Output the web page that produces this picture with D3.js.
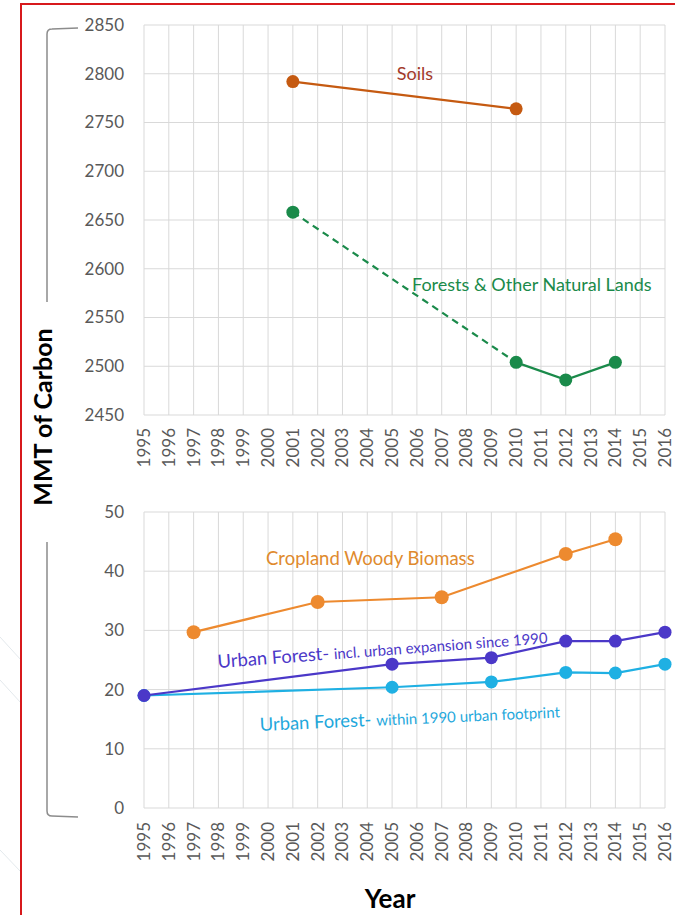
<!DOCTYPE html>
<html>
  <head>
    <meta charset="utf-8">
    <title>MMT of Carbon</title>
    <script src="https://d3js.org/d3.v7.min.js"></script>
    <style>
      body { margin: 0; background: #fff; }
      svg text { font-family: Lato, "Open Sans", sans-serif; }
      .grid line { stroke: #d9d9d9; stroke-width: 1; }
      .tick-label { fill: #595959; font-size: 17px; }
    </style>
  </head>
  <body>
    <svg width="675" height="915"></svg>

    <script>
      // years on the category axis
      const years = d3.range(1995, 2017);

      // upper panel
      const topTicks = [2450, 2500, 2550, 2600, 2650, 2700, 2750, 2800, 2850];
      const soils = [
        { year: 2001, value: 2792 },
        { year: 2010, value: 2764 }
      ];
      const forestsDashed = [
        { year: 2001, value: 2658 },
        { year: 2010, value: 2504 }
      ];
      const forests = [
        { year: 2010, value: 2504 },
        { year: 2012, value: 2486 },
        { year: 2014, value: 2504 }
      ];

      // lower panel
      const bottomTicks = [0, 10, 20, 30, 40, 50];
      const cropland = [
        { year: 1997, value: 29.7 },
        { year: 2002, value: 34.8 },
        { year: 2007, value: 35.6 },
        { year: 2012, value: 42.9 },
        { year: 2014, value: 45.4 }
      ];
      const urbanIncl = [
        { year: 1995, value: 19.0 },
        { year: 2005, value: 24.3 },
        { year: 2009, value: 25.4 },
        { year: 2012, value: 28.2 },
        { year: 2014, value: 28.2 },
        { year: 2016, value: 29.7 }
      ];
      const urbanWithin = [
        { year: 1995, value: 19.0 },
        { year: 2005, value: 20.4 },
        { year: 2009, value: 21.3 },
        { year: 2012, value: 22.9 },
        { year: 2014, value: 22.8 },
        { year: 2016, value: 24.3 }
      ];

      const svg = d3.select("svg");

      // faint background strokes at the left edge
      svg.append("path")
        .attr("d", "M0,637 L21,660 M0,680 L21,703 M0,850 L21,872")
        .attr("stroke", "#e3e9ec").attr("stroke-width", 1);

      // red frame (right edge is off the picture)
      svg.append("rect")
        .attr("x", 21).attr("y", 4)
        .attr("width", 700).attr("height", 930)
        .attr("fill", "none")
        .attr("stroke", "#d7191c")
        .attr("stroke-width", 2);

      const x = d3.scalePoint().domain(years).range([144, 665]);
      const yTop = d3.scaleLinear().domain([2450, 2850]).range([415, 25]);
      const yBot = d3.scaleLinear().domain([0, 50]).range([808, 512]);

      function panel(y, ticks, labelY) {
        const g = svg.append("g").attr("class", "grid");
        g.selectAll(".h").data(ticks).enter().append("line")
          .attr("x1", x.range()[0]).attr("x2", x.range()[1])
          .attr("y1", d => y(d)).attr("y2", d => y(d));
        g.selectAll(".v").data(years).enter().append("line")
          .attr("x1", d => x(d)).attr("x2", d => x(d))
          .attr("y1", y.range()[1]).attr("y2", y.range()[0]);

        svg.append("g").selectAll("text").data(ticks).enter().append("text")
          .attr("class", "tick-label")
          .attr("x", 124)
          .attr("y", d => y(d))
          .attr("dy", "0.35em")
          .attr("text-anchor", "end")
          .text(d => d);

        svg.append("g").selectAll("text").data(years).enter().append("text")
          .attr("class", "tick-label")
          .attr("transform", d => "translate(" + x(d) + "," + labelY + ") rotate(-90)")
          .attr("dy", "0.35em")
          .attr("text-anchor", "end")
          .text(d => d);
      }

      panel(yTop, topTicks, 428);
      panel(yBot, bottomTicks, 822);

      function series(data, y, color, r, dashed) {
        const line = d3.line().x(d => x(d.year)).y(d => y(d.value));
        svg.append("path")
          .datum(data)
          .attr("d", line)
          .attr("fill", "none")
          .attr("stroke", color)
          .attr("stroke-width", 2.2)
          .attr("stroke-dasharray", dashed ? "7,5" : null);
        if (r) {
          svg.append("g").selectAll("circle").data(data).enter().append("circle")
            .attr("cx", d => x(d.year))
            .attr("cy", d => y(d.value))
            .attr("r", r)
            .attr("fill", color);
        }
      }

      series(soils, yTop, "#c55a11", 6.5);
      series(forestsDashed, yTop, "#1a8a4a", 0, true);
      series(forests, yTop, "#1a8a4a", 6.5);
      svg.append("circle")
        .attr("cx", x(forestsDashed[0].year))
        .attr("cy", yTop(forestsDashed[0].value))
        .attr("r", 6.5).attr("fill", "#1a8a4a");

      series(cropland, yBot, "#ed8a2f", 7);
      series(urbanWithin, yBot, "#1fb0e3", 6.5);
      series(urbanIncl, yBot, "#4b38c8", 6.5);

      // series labels
      svg.append("text").attr("x", 415).attr("y", 80)
        .attr("text-anchor", "middle").attr("font-size", 18)
        .attr("fill", "#a23a2a").text("Soils");

      svg.append("text").attr("x", 412).attr("y", 291)
        .attr("font-size", 18).attr("fill", "#1a8a4a")
        .text("Forests & Other Natural Lands");

      svg.append("text").attr("x", 266).attr("y", 565)
        .attr("font-size", 18.5).attr("fill", "#e08a2e")
        .text("Cropland Woody Biomass");

      const t1 = svg.append("text")
        .attr("transform", "translate(218,668) rotate(-4.3)")
        .attr("fill", "#4b38c8");
      t1.append("tspan").attr("font-size", 18.4).text("Urban Forest- ");
      t1.append("tspan").attr("font-size", 15).text("incl. urban expansion since 1990");

      const t2 = svg.append("text")
        .attr("transform", "translate(260,731) rotate(-2.6)")
        .attr("fill", "#1fa8dc");
      t2.append("tspan").attr("font-size", 18.4).text("Urban Forest- ");
      t2.append("tspan").attr("font-size", 15).text("within 1990 urban footprint");

      // bracket + axis titles
      svg.append("path")
        .attr("d", "M78,28 L52,29 Q47,29 47,34 L47,302 M47,542 L47,811 Q47,816 52,816 L78,817")
        .attr("fill", "none").attr("stroke", "#8c8c8c").attr("stroke-width", 1.5);

      svg.append("text")
        .attr("transform", "translate(52,417) rotate(-90)")
        .attr("text-anchor", "middle")
        .attr("font-size", 25).attr("font-weight", "bold").attr("fill", "#000")
        .text("MMT of Carbon");

      svg.append("text")
        .attr("x", 390).attr("y", 908)
        .attr("text-anchor", "middle")
        .attr("font-size", 26).attr("font-weight", "bold").attr("fill", "#000")
        .text("Year");
    </script>
  </body>
</html>
